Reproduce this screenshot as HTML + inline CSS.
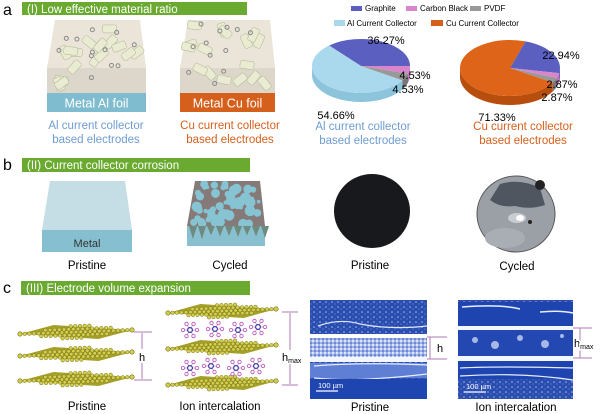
<!DOCTYPE html>
<html><head><meta charset="utf-8"><style>
html,body{margin:0;padding:0;background:#fff;}
svg{display:block;font-family:"Liberation Sans",Arial,sans-serif;}
</style></head><body>
<svg id="s" width="600" height="414" viewBox="0 0 600 414" xmlns="http://www.w3.org/2000/svg">
<defs>
<pattern id="tex" width="6" height="5" patternUnits="userSpaceOnUse">
<rect width="6" height="5" fill="#2a4db0"/><circle cx="2" cy="2" r="0.8" fill="#a8b8ec"/><circle cx="5" cy="4" r="0.6" fill="#6f8ad8"/>
</pattern>
<pattern id="tex2" width="4" height="4" patternUnits="userSpaceOnUse">
<rect width="4" height="4" fill="#9fb3ea"/><circle cx="1" cy="1" r="1" fill="#f2f5ff"/><circle cx="3" cy="3" r="0.8" fill="#3558b8"/>
</pattern>
<clipPath id="topc"><polygon points="195,181 260,181 265,226 187,226"/></clipPath>
</defs>
<!-- Panel a -->
<text x="3" y="15" font-size="16">a</text>
<rect x="22" y="2" width="225" height="13" fill="#6aaa30"/>
<text x="27" y="13" font-size="11.5" fill="#fff">(I) Low effective material ratio</text>

<g id="cubes"></g>
<rect x="47" y="93" width="99" height="19" fill="#7fbcd0"/>
<text x="96.5" y="107.5" font-size="12.5" fill="#fff" text-anchor="middle">Metal Al foil</text>
<rect x="180" y="93" width="95" height="19" fill="#d5601c"/>
<text x="227.5" y="107.5" font-size="12.5" fill="#fff" text-anchor="middle">Metal Cu foil</text>
<text x="96" y="129" font-size="11.5" fill="#6f9dd2" text-anchor="middle">Al current collector</text>
<text x="96" y="143" font-size="11.5" fill="#6f9dd2" text-anchor="middle">based electrodes</text>
<text x="230" y="129" font-size="11.5" fill="#d5601c" text-anchor="middle">Cu current collector</text>
<text x="230" y="143" font-size="11.5" fill="#d5601c" text-anchor="middle">based electrodes</text>

<!-- legend -->
<rect x="351" y="6" width="11" height="5" fill="#5a5fc0"/><text x="365" y="11" font-size="8">Graphite</text>
<rect x="406" y="6" width="11" height="5" fill="#d885cc"/><text x="420" y="11" font-size="8">Carbon Black</text>
<rect x="470" y="6" width="11" height="5" fill="#999"/><text x="484" y="11" font-size="8">PVDF</text>
<rect x="334" y="20" width="11" height="6" fill="#a9d8ec"/><text x="347" y="26" font-size="8">Al Current Collector</text>
<rect x="431" y="20" width="12" height="6" fill="#d5601c"/><text x="446" y="26" font-size="8">Cu Current Collector</text>
<g id="pies"></g>
<g font-size="11">
<text x="386" y="44" text-anchor="middle">36.27%</text>
<text x="415" y="79" text-anchor="middle">4.53%</text>
<text x="408" y="93" text-anchor="middle">4.53%</text>
<text x="336" y="119" text-anchor="middle">54.66%</text>
<text x="561" y="59" text-anchor="middle">22.94%</text>
<text x="562" y="88" text-anchor="middle">2.87%</text>
<text x="557" y="101" text-anchor="middle">2.87%</text>
<text x="497" y="121" text-anchor="middle">71.33%</text>
</g>
<text x="363" y="130" font-size="11.5" fill="#6f9dd2" text-anchor="middle">Al current collector</text>
<text x="363" y="144" font-size="11.5" fill="#6f9dd2" text-anchor="middle">based electrodes</text>
<text x="523" y="130" font-size="11.5" fill="#d5601c" text-anchor="middle">Cu current collector</text>
<text x="523" y="144" font-size="11.5" fill="#d5601c" text-anchor="middle">based electrodes</text>

<!-- Panel b -->
<text x="3" y="170" font-size="16">b</text>
<rect x="22" y="158" width="228" height="14" fill="#6aaa30"/>
<text x="27" y="169" font-size="11.5" fill="#fff">(II) Current collector corrosion</text>
<polygon points="50,181 125,181 132,230 42,230" fill="#c5dde4"/>
<rect x="42" y="230" width="90" height="22" fill="#86c0d0"/>
<text x="87" y="247" font-size="11" fill="#333" text-anchor="middle">Metal</text>
<text x="87" y="269" font-size="11.5" text-anchor="middle">Pristine</text>
<polygon points="195,181 260,181 265,226 187,226" fill="#857a78"/>
<g id="bubbles" clip-path="url(#topc)"></g>
<rect x="187" y="226" width="78" height="20" fill="#88c0cf"/>
<g id="teeth"></g>
<text x="230" y="269" font-size="11.5" text-anchor="middle">Cycled</text>
<ellipse cx="372" cy="211" rx="38" ry="37" fill="#17191c"/>
<text x="370" y="269" font-size="11.5" text-anchor="middle">Pristine</text>
<ellipse cx="516" cy="214" rx="39" ry="38" fill="#9aa0a6" stroke="#555" stroke-width="1"/>
<path d="M500,184 Q520,178 540,188 L545,205 Q530,210 515,206 Q500,208 490,200 Z" fill="#505660"/>
<ellipse cx="517" cy="218" rx="9" ry="5" fill="#c9ccd0"/><ellipse cx="520" cy="218" rx="4" ry="3" fill="#fff"/>
<circle cx="540" cy="185" r="5" fill="#222"/><circle cx="530" cy="222" r="2" fill="#222"/>
<ellipse cx="505" cy="238" rx="20" ry="10" fill="#a8aeb4"/>
<text x="517" y="270" font-size="11.5" text-anchor="middle">Cycled</text>

<!-- Panel c -->
<text x="3" y="293" font-size="16">c</text>
<rect x="21" y="281" width="229" height="14" fill="#6aaa30"/>
<text x="26" y="292" font-size="11.5" fill="#fff">(III) Electrode volume expansion</text>
<g id="layers"></g>
<g stroke="#b07ab8" stroke-width="1" fill="none">
<line x1="134" y1="332" x2="152" y2="332"/><line x1="134" y1="380" x2="152" y2="380"/>
<line x1="142" y1="333" x2="142" y2="349"/><line x1="142" y1="363" x2="142" y2="379"/>
<line x1="282" y1="312" x2="298" y2="312"/><line x1="282" y1="385" x2="298" y2="385"/>
<line x1="290" y1="313" x2="290" y2="350"/><line x1="290" y1="364" x2="290" y2="384"/>
<line x1="427" y1="337" x2="447" y2="337"/><line x1="427" y1="359" x2="447" y2="359"/><line x1="430" y1="337" x2="430" y2="359"/>
<line x1="573" y1="328" x2="592" y2="328"/><line x1="573" y1="358" x2="592" y2="358"/><line x1="580" y1="328" x2="580" y2="358"/>
</g>
<text x="142" y="361" font-size="11" text-anchor="middle">h</text>
<text x="282" y="361" font-size="11">h<tspan font-size="7" dy="2">max</tspan></text>
<text x="437" y="352" font-size="11">h</text>
<text x="574" y="347" font-size="11" style="paint-order:stroke" stroke="#fff" stroke-width="3">h<tspan font-size="7" dy="2">max</tspan></text>
<!-- SEM pristine -->
<rect x="310" y="300" width="117" height="99" fill="url(#tex)"/>
<path d="M318,326 Q340,318 360,324 Q390,330 427,326" stroke="#dfe7ff" stroke-width="1.2" fill="none"/>
<rect x="310" y="334" width="117" height="4" fill="#fff"/>
<rect x="310" y="338" width="117" height="19" fill="url(#tex2)"/>
<rect x="310" y="357" width="117" height="5" fill="#f4f6ff"/>
<rect x="310" y="363" width="117" height="15" fill="#5f7fd4"/>
<path d="M314,366 Q360,362 427,365 M314,378 Q360,382 427,374" stroke="#e6ecff" stroke-width="1.2" fill="none"/>
<rect x="310" y="379" width="117" height="20" fill="#1f45b0"/>
<text x="318" y="388" font-size="7.5" fill="#fff">100 µm</text>
<line x1="316" y1="391" x2="338" y2="391" stroke="#fff" stroke-width="1.2"/>
<!-- SEM ion -->
<rect x="458" y="300" width="115" height="99" fill="url(#tex)"/>
<rect x="458" y="302" width="115" height="24" fill="#1e44b0"/>
<path d="M462,307 Q500,304 520,309 M540,312 Q560,310 573,313" stroke="#e8eeff" stroke-width="1.5" fill="none"/>
<rect x="458" y="326" width="115" height="4" fill="#f4f6ff"/>
<rect x="458" y="330" width="115" height="26" fill="#2448b2"/>
<g fill="#c8d4f4" opacity="0.8"><circle cx="475" cy="340" r="3"/><circle cx="495" cy="345" r="4"/><circle cx="520" cy="338" r="3"/><circle cx="545" cy="344" r="4"/><circle cx="562" cy="336" r="2"/></g>
<rect x="458" y="356" width="115" height="5" fill="#f4f6ff"/>
<rect x="458" y="361" width="115" height="18" fill="#1e44b0"/>
<path d="M460,368 Q500,366 573,368 M460,376 Q520,372 573,380" stroke="#e6ecff" stroke-width="1.2" fill="none"/>
<text x="466" y="389" font-size="7.5" fill="#fff">100 µm</text>
<line x1="464" y1="392" x2="486" y2="392" stroke="#fff" stroke-width="1.2"/>
<text x="87" y="410" font-size="11.5" text-anchor="middle">Pristine</text>
<text x="220" y="410" font-size="11.5" text-anchor="middle">Ion intercalation</text>
<text x="370" y="411" font-size="11.5" text-anchor="middle">Pristine</text>
<text x="516" y="411" font-size="11.5" text-anchor="middle">Ion intercalation</text>
</svg>
<script>
var NS="http://www.w3.org/2000/svg";
function el(p,t,a){var e=document.createElementNS(NS,t);for(var k in a)e.setAttribute(k,a[k]);p.appendChild(e);return e;}
var rnd=(function(){var s=7;return function(){s=(s*9301+49297)%233280;return s/233280;};})();
var cg=document.getElementById('cubes');
[[55,140,47,146],[188,270,180,275]].forEach(function(c){
 el(cg,'polygon',{points:c[0]+',20 '+c[1]+',20 '+c[3]+',68 '+c[2]+',68',fill:'#ebe5d9'});
 el(cg,'rect',{x:c[2],y:68,width:c[3]-c[2],height:25,fill:'#ddd6ca'});
 for(var i=0;i<16;i++){var x=c[2]+8+rnd()*(c[3]-c[2]-16),y=24+rnd()*64;
  el(cg,'rect',{x:x-7,y:y-4,width:14,height:8,rx:2,fill:'#e9ecd2',stroke:'#b8bc98','stroke-width':0.6,transform:'rotate('+(rnd()*140-70)+' '+x+' '+y+')'});}
 for(var i=0;i<12;i++){el(cg,'circle',{cx:c[2]+8+rnd()*(c[3]-c[2]-16),cy:24+rnd()*64,r:2,fill:'none',stroke:'#888','stroke-width':1});}
});
function pt(cx,cy,rx,ry,a){a=a*Math.PI/180;return [cx+rx*Math.cos(a),cy+ry*Math.sin(a)];}
function pie(cx,cy,rx,ry,d,sl){
 var g=document.getElementById('pies');
 sl.forEach(function(s){
  var a0=Math.max(s[0],0),a1=Math.min(s[1],180);
  if(a1>a0){var p0=pt(cx,cy,rx,ry,a0),p1=pt(cx,cy,rx,ry,a1);
   el(g,'path',{d:'M'+p0+' A'+rx+','+ry+' 0 0 1 '+p1+' L'+p1[0]+','+(p1[1]+d)+' A'+rx+','+ry+' 0 0 0 '+p0[0]+','+(p0[1]+d)+' Z',fill:s[3]});}
 });
 sl.forEach(function(s){var p0=pt(cx,cy,rx,ry,s[0]),p1=pt(cx,cy,rx,ry,s[1]);var lg=(s[1]-s[0])>180?1:0;
  el(g,'path',{d:'M'+cx+','+cy+' L'+p0+' A'+rx+','+ry+' 0 '+lg+' 1 '+p1+' Z',fill:s[2]});});
}
pie(361,66,49,27,9,[[-130.6,0,'#5a5fc0','#4a4fa8'],[0,16.3,'#d885cc','#c070b4'],[16.3,32.6,'#999','#777'],[32.6,229.4,'#aad8ec','#8cc4dc']]);
pie(510,68,50,28,9,[[-72,10.6,'#5a5fc0','#4a4fa8'],[10.6,20.9,'#d885cc','#c070b4'],[20.9,31.2,'#999','#777'],[31.2,288,'#dd6418','#b84e0e']]);
var bg=document.getElementById('bubbles');
for(var i=0;i<70;i++){var y=184+rnd()*40,w=(y-181)/45;var l=195-8*w,r=260+5*w;var rr=1.5+rnd()*4;
 el(bg,'circle',{cx:l+rr+rnd()*(r-l-2*rr),cy:y,r:rr,fill:'#86c4d4'});}
var tg=document.getElementById('teeth');
for(var x=189;x<262;x+=9){el(tg,'polygon',{points:x+',226 '+(x+8)+',226 '+(x+4)+','+(235+rnd()*6),fill:'#6f8a7e'});}
var lg=document.getElementById('layers');
function layer(x0,x1,y){
 var w=x1-x0;
 el(lg,'polygon',{points:x0+','+(y+2)+' '+(x0+w*0.3)+','+(y-7)+' '+x1+','+(y-2)+' '+(x0+w*0.7)+','+(y+7),fill:'#a4a02a'});
 for(var i=0;i<=24;i++){var t=i/24;
  for(var j=-2;j<=2;j++){var half=1-Math.abs(t-0.5)*2;if(Math.abs(j)>half*2.6)continue;
   el(lg,'circle',{cx:x0+t*w-j*2,cy:y+j*3-(t-0.5)*4,r:1.8,fill:'#d4cf50',stroke:'#7e7a18','stroke-width':0.5});}}
 el(lg,'circle',{cx:x0,cy:y+2,r:2.2,fill:'#d4cf50',stroke:'#6e6a10','stroke-width':0.6});
 el(lg,'circle',{cx:x1,cy:y-2,r:2.2,fill:'#d4cf50',stroke:'#6e6a10','stroke-width':0.6});
}
[332,354,379].forEach(function(y){layer(20,132,y);});
[311,347,383].forEach(function(y){layer(168,276,y);});
function ion(cx,cy){for(var k=0;k<6;k++){var a=k*Math.PI/3;el(lg,'line',{x1:cx,y1:cy,x2:cx+6*Math.cos(a),y2:cy+6*Math.sin(a),stroke:'#c070c0','stroke-width':0.6});
 el(lg,'circle',{cx:cx+7*Math.cos(a),cy:cy+7*Math.sin(a),r:1.7,fill:'#fff',stroke:'#c060c0','stroke-width':0.9});}
 el(lg,'circle',{cx:cx,cy:cy,r:2.4,fill:'#fff',stroke:'#3a3aa0','stroke-width':1.2});}
[[190,330],[215,329],[238,330],[258,327],[190,368],[211,366],[236,368],[256,366]].forEach(function(p){ion(p[0],p[1]);});
</script>
</body></html>
